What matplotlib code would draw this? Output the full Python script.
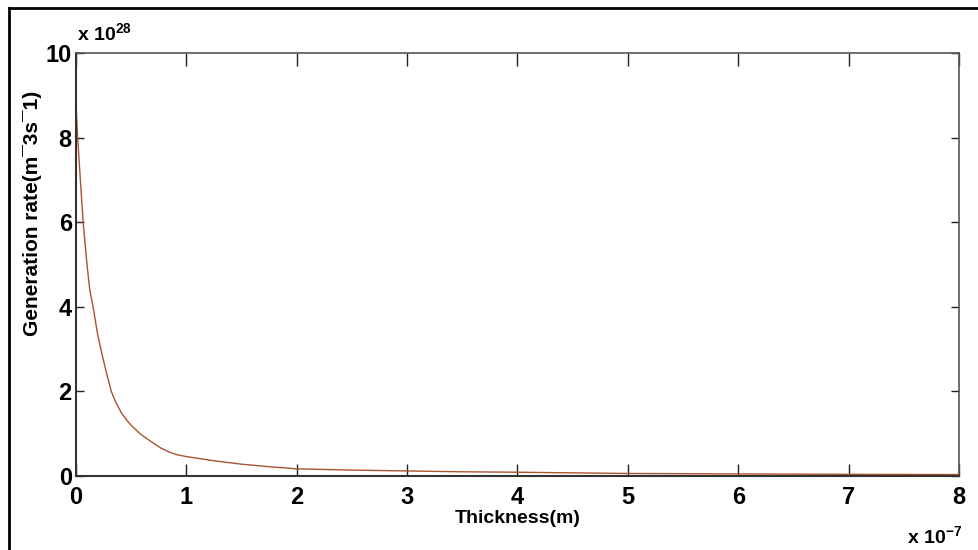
import matplotlib
matplotlib.use('Agg')
import matplotlib.pyplot as plt
from matplotlib.lines import Line2D

# thickness in units of 1e-7 m, generation rate in units of 1e28 m^-3 s^-1
thickness = [0.0, 0.015, 0.04, 0.065, 0.1, 0.125, 0.155, 0.18, 0.2, 0.23,
             0.27, 0.32, 0.36, 0.41, 0.46, 0.5, 0.58, 0.65, 0.7, 0.77, 0.85,
             0.92, 1.0, 1.25, 1.5, 1.75, 2.0, 2.5, 3.0, 3.5, 4.0, 5.0, 6.0,
             7.0, 8.0]
gen_rate = [8.8, 8.0, 7.0, 6.0, 5.0, 4.4, 4.0, 3.6, 3.3, 2.95,
            2.5, 2.0, 1.75, 1.5, 1.32, 1.2, 1.0, 0.87, 0.78, 0.66, 0.56,
            0.5, 0.46, 0.36, 0.28, 0.22, 0.17, 0.14, 0.12, 0.10, 0.09, 0.06,
            0.05, 0.04, 0.035]

xticks = [0, 1, 2, 3, 4, 5, 6, 7, 8]
yticks = [0, 2, 4, 6, 8, 10]

narrow = ['Liberation Sans Narrow', 'Liberation Sans', 'DejaVu Sans']
wide = ['Liberation Sans', 'DejaVu Sans']


def main():
    fig = plt.figure(figsize=(9.79, 5.5), dpi=100)
    ax = fig.add_axes([0.0776, 0.1345, 0.902, 0.769])

    ax.plot(thickness, gen_rate, color='#a9542e', linewidth=1.0)

    ax.set_xlim(0, 8)
    ax.set_ylim(0, 10)
    ax.set_xticks(xticks)
    ax.set_yticks(yticks)
    ax.set_xticklabels([str(t) for t in xticks], family=narrow,
                       fontweight='bold', fontsize=17)
    ax.set_yticklabels([str(t) for t in yticks], family=narrow,
                       fontweight='bold', fontsize=17)
    ax.tick_params(axis='x', direction='in', length=9, width=1,
                   top=True, pad=7, colors='#222222', labelcolor='black')
    ax.tick_params(axis='y', direction='in', length=6, width=1,
                   right=True, pad=3, colors='#222222', labelcolor='black')
    for side in ['left', 'bottom']:
        ax.spines[side].set_color('#333333')
        ax.spines[side].set_linewidth(1.5)
    for side in ['top', 'right']:
        ax.spines[side].set_color('#555555')
        ax.spines[side].set_linewidth(1.2)

    ax.set_xlabel('Thickness(m)', family=narrow, fontweight='bold',
                  fontsize=14, labelpad=1)
    fig.text(0.033, 0.612, 'Generation rate(m\u00af3s\u00af1)', family=wide,
             fontweight='bold', fontsize=15, rotation=90,
             ha='center', va='center')

    # offset multipliers as drawn in the original
    fig.text(0.0785, 0.918, r'x 10$^{\mathregular{28}}$', family=narrow,
             fontweight='bold', fontsize=14, ha='left', va='bottom')
    fig.text(0.926, 0.004, r'x 10$^{\mathregular{-7}}$', family=narrow,
             fontweight='bold', fontsize=14, ha='left', va='bottom')

    # image border (left and top)
    fig.add_artist(Line2D([0.0095, 0.0095], [0.0, 0.986],
                          transform=fig.transFigure, color='black', lw=2))
    fig.add_artist(Line2D([0.0095, 1.0], [0.986, 0.986],
                          transform=fig.transFigure, color='black', lw=2))

    fig.savefig('out.png', dpi=100)


if __name__ == '__main__':
    main()
